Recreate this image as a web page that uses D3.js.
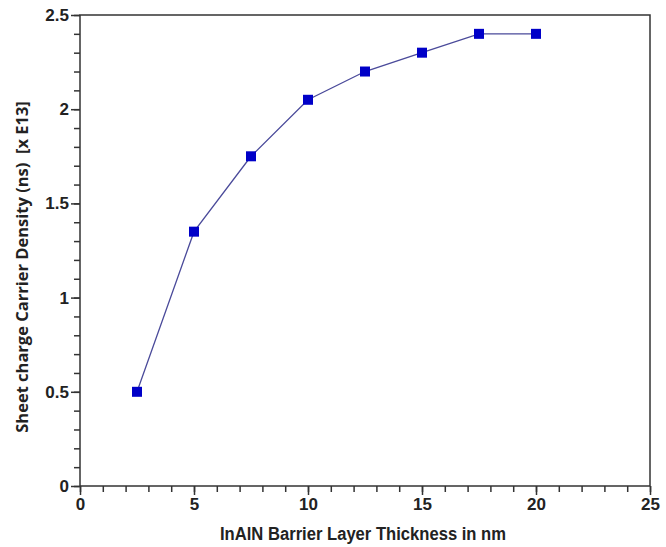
<!DOCTYPE html>
<html>
<head>
<meta charset="utf-8">
<script src="https://cdn.jsdelivr.net/npm/d3@7"></script>
<style>
  body { margin: 0; background: #fff; }
  .tick text { font-family: "Liberation Sans", Arial, sans-serif; font-weight: bold; font-size: 17px; fill: #222; }
</style>
</head>
<body>
<div id="chart"></div>
<script>
// thickness (nm) and sheet charge density (x E13)
const thickness = [2.5, 5, 7.5, 10, 12.5, 15, 17.5, 20];
const density = [0.5, 1.35, 1.75, 2.05, 2.2, 2.3, 2.4, 2.4];
const xTicks = [0, 5, 10, 15, 20, 25];
const yTicks = [0, 0.5, 1, 1.5, 2, 2.5];

const width = 666, height = 547;
const margin = {top: 15, right: 16, bottom: 61, left: 80};

const svg = d3.select('#chart').append('svg')
  .attr('width', width).attr('height', height);

const x = d3.scaleLinear().domain([0, 25]).range([margin.left, width - margin.right]);
const y = d3.scaleLinear().domain([0, 2.5]).range([height - margin.bottom, margin.top]);

// box
svg.append('rect')
  .attr('x', x(0)).attr('y', y(2.5))
  .attr('width', x(25) - x(0)).attr('height', y(0) - y(2.5))
  .attr('fill', 'none').attr('stroke', '#333').attr('stroke-width', 1.5);

// minor ticks
svg.append('g')
  .attr('transform', 'translate(0,' + y(0) + ')')
  .call(d3.axisBottom(x).ticks(25).tickSize(6).tickFormat(''))
  .call(g => g.select('.domain').remove())
  .selectAll('line').attr('stroke', '#333').attr('stroke-width', 1.5);
svg.append('g')
  .attr('transform', 'translate(' + x(0) + ',0)')
  .call(d3.axisLeft(y).ticks(25).tickSize(6).tickFormat(''))
  .call(g => g.select('.domain').remove())
  .selectAll('line').attr('stroke', '#333').attr('stroke-width', 1.5);

// major ticks
const xAxis = svg.append('g')
  .attr('transform', 'translate(0,' + y(0) + ')')
  .call(d3.axisBottom(x).tickValues(xTicks).tickSize(9).tickPadding(3).tickFormat(d3.format('d')));
xAxis.select('.domain').remove();
xAxis.selectAll('line').attr('stroke', '#333').attr('stroke-width', 1.5);

const yAxis = svg.append('g')
  .attr('transform', 'translate(' + x(0) + ',0)')
  .call(d3.axisLeft(y).tickValues(yTicks).tickSize(9).tickPadding(2).tickFormat(d => d));
yAxis.select('.domain').remove();
yAxis.selectAll('line').attr('stroke', '#333').attr('stroke-width', 1.5);

// line
const pts = thickness.map((t, i) => [t, density[i]]);
svg.append('path')
  .datum(pts)
  .attr('fill', 'none')
  .attr('stroke', '#4a4a9a')
  .attr('stroke-width', 1.3)
  .attr('d', d3.line().x(d => x(d[0])).y(d => y(d[1])));

// markers
const s = 10;
svg.selectAll('rect.pt').data(pts).enter()
  .append('rect')
  .attr('class', 'pt')
  .attr('x', d => x(d[0]) - s / 2)
  .attr('y', d => y(d[1]) - s / 2)
  .attr('width', s).attr('height', s)
  .attr('fill', '#0000c8');

// axis titles
svg.append('text')
  .attr('x', 363)
  .attr('y', 540)
  .attr('text-anchor', 'middle')
  .attr('textLength', 286)
  .attr('lengthAdjust', 'spacingAndGlyphs')
  .style('font-family', '"Liberation Sans", Arial, sans-serif')
  .style('font-weight', 'bold')
  .style('font-size', '18px')
  .style('fill', '#222')
  .text('InAlN Barrier Layer Thickness in nm');

svg.append('text')
  .attr('transform', 'translate(28,267) rotate(-90)')
  .attr('text-anchor', 'middle')
  .style('font-family', '"Open Sans", sans-serif')
  .style('font-weight', 'bold')
  .style('font-size', '16.5px')
  .style('fill', '#222')
  .attr('xml:space', 'preserve')
  .text('Sheet charge Carrier Density (ns)  [x E13]');
</script>
</body>
</html>
